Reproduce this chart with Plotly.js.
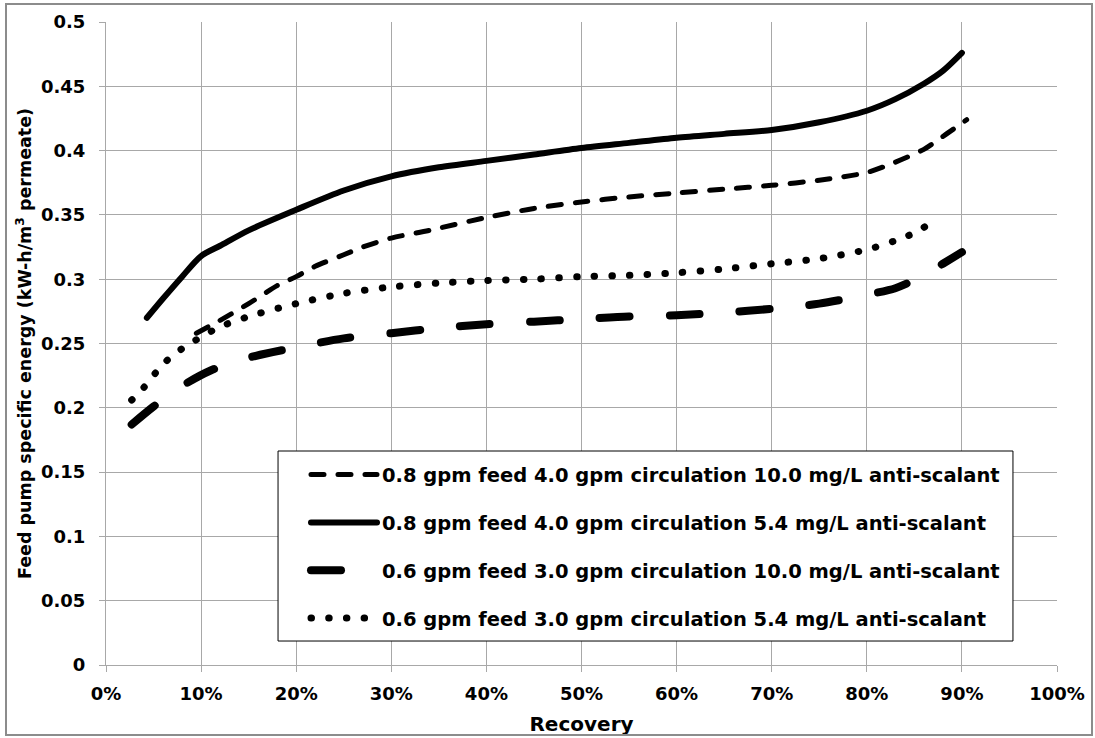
<!DOCTYPE html>
<html>
<head>
<meta charset="utf-8">
<script src="https://cdn.plot.ly/plotly-3.0.1.min.js"></script>
<style>
  html, body { margin: 0; padding: 0; background: #fff; }
  #wrap { position: relative; width: 1095px; height: 738px; }
  #chart { width: 1095px; height: 738px; }
  #frame { position: absolute; left: 5px; top: 3px; width: 1084px; height: 729px;
           border: 2px solid #8c8c8c; pointer-events: none; }
  .js-line { stroke-linecap: round; }
</style>
</head>
<body>
<div id="wrap">
  <div id="chart"></div>
  <div id="frame"></div>
</div>
<script>
// Series names (legend text)
const seriesNames = [
  '0.8 gpm feed 4.0 gpm circulation 10.0 mg/L anti-scalant',
  '0.8 gpm feed 4.0 gpm circulation 5.4 mg/L anti-scalant',
  '0.6 gpm feed 3.0 gpm circulation 10.0 mg/L anti-scalant',
  '0.6 gpm feed 3.0 gpm circulation 5.4 mg/L anti-scalant'
];

// 0.8 gpm feed, 10.0 mg/L (short dash)
const recA = [9.5, 12, 15, 18, 20, 22, 25, 27, 30, 34, 40, 45, 50, 55, 60, 65, 70, 75, 80, 83, 86, 88, 90.5];
const energyA = [0.258, 0.268, 0.281, 0.295, 0.302, 0.310, 0.319, 0.325, 0.332, 0.338, 0.348, 0.355, 0.360, 0.364, 0.367, 0.370, 0.373, 0.377, 0.383, 0.391, 0.401, 0.411, 0.424];

// 0.8 gpm feed, 5.4 mg/L (solid)
const recB = [4.3, 6, 8, 10, 12, 15, 20, 25, 30, 35, 40, 45, 50, 55, 60, 65, 70, 75, 80, 83, 86, 88, 90];
const energyB = [0.270, 0.285, 0.302, 0.318, 0.326, 0.338, 0.354, 0.369, 0.380, 0.387, 0.392, 0.397, 0.402, 0.406, 0.410, 0.413, 0.416, 0.422, 0.431, 0.440, 0.452, 0.462, 0.476];

// 0.6 gpm feed, 10.0 mg/L (long dash)
const recC = [2.7, 5, 8, 11, 15, 20, 25, 30, 35, 40, 45, 50, 55, 60, 65, 70, 75, 80, 83, 86, 88, 90];
const energyC = [0.187, 0.201, 0.217, 0.229, 0.239, 0.247, 0.254, 0.258, 0.262, 0.265, 0.267, 0.269, 0.271, 0.272, 0.274, 0.277, 0.281, 0.288, 0.293, 0.303, 0.312, 0.321];

// 0.6 gpm feed, 5.4 mg/L (dotted)
const recD = [2.7, 4, 6, 8, 10, 12, 15, 20, 25, 30, 35, 40, 45, 50, 55, 60, 65, 70, 75, 80, 83, 85, 87];
const energyD = [0.206, 0.216, 0.234, 0.246, 0.255, 0.263, 0.271, 0.281, 0.289, 0.294, 0.297, 0.299, 0.300, 0.302, 0.303, 0.305, 0.308, 0.312, 0.316, 0.323, 0.330, 0.336, 0.345];

// Axis ticks
const xTickVals = [0, 10, 20, 30, 40, 50, 60, 70, 80, 90, 100];
const xTickLabels = ['0%', '10%', '20%', '30%', '40%', '50%', '60%', '70%', '80%', '90%', '100%'];
const yTickVals = [0, 0.05, 0.1, 0.15, 0.2, 0.25, 0.3, 0.35, 0.4, 0.45, 0.5];
const yTickLabels = ['0', '0.05', '0.1', '0.15', '0.2', '0.25', '0.3', '0.35', '0.4', '0.45', '0.5'];

const FONT = 'DejaVu Sans, Liberation Sans, Arial, sans-serif';
const GRID = '#a8a8a8';

const xs = [recA, recB, recC, recD];
const ys = [energyA, energyB, energyC, energyD];
const styles = [
  { width: 5, dash: '13px,14px' },
  { width: 6, dash: 'solid' },
  { width: 8, dash: '30px,40px' },
  { width: 7, dash: '0.5px,17.2px' }
];

const traces = xs.map((x, i) => ({
  type: 'scatter',
  mode: 'lines',
  x: x,
  y: ys[i],
  name: seriesNames[i],
  legendgroup: 'g' + i,
  line: { color: '#000', width: styles[i].width, dash: styles[i].dash, shape: 'spline', smoothing: 0.8 },
  hoverinfo: 'skip'
}));

const layout = {
  width: 1095,
  height: 738,
  margin: { l: 106, r: 38, t: 22, b: 73, pad: 0 },
  paper_bgcolor: '#fff',
  plot_bgcolor: '#fff',
  font: { family: FONT, color: '#000', size: 18, weight: 'bold' },
  showlegend: true,
  legend: {
    x: 0.2103, y: 0.326, xanchor: 'left', yanchor: 'top',
    bgcolor: 'rgba(0,0,0,0)', borderwidth: 0,
    font: { family: FONT, size: 19.5, color: '#000', weight: 'bold' },
    traceorder: 'grouped', tracegroupgap: 19.5, itemwidth: 66,
    itemclick: false, itemdoubleclick: false
  },
  shapes: [{
    type: 'rect', xref: 'paper', yref: 'paper',
    x0: 0.1809, x1: 0.9537, y0: 0.0373, y1: 0.3328,
    line: { color: '#000', width: 1 }, fillcolor: '#fff', layer: 'above'
  }],
  xaxis: {
    range: [0, 100], autorange: false,
    tickvals: xTickVals, ticktext: xTickLabels, tickmode: 'array',
    showgrid: true, gridcolor: GRID, gridwidth: 1,
    showline: true, linecolor: GRID, linewidth: 1,
    ticks: 'outside', ticklen: 6, tickcolor: GRID,
    tickfont: { family: FONT, size: 18, color: '#000', weight: 'bold' },
    ticklabelstandoff: 6,
    zeroline: false,
    automargin: false,
    title: { text: 'Recovery', font: { family: FONT, size: 20, color: '#000', weight: 'bold' }, standoff: 14 }
  },
  yaxis: {
    range: [0, 0.5], autorange: false,
    tickvals: yTickVals, ticktext: yTickLabels, tickmode: 'array',
    showgrid: true, gridcolor: GRID, gridwidth: 1,
    showline: true, linecolor: GRID, linewidth: 1,
    ticks: 'outside', ticklen: 6, tickcolor: GRID,
    tickfont: { family: FONT, size: 18, color: '#000', weight: 'bold' },
    ticklabelstandoff: 10,
    zeroline: false,
    automargin: false,
    title: { text: 'Feed pump specific energy (kW-h/m<sup>3</sup> permeate)', font: { family: FONT, size: 17.5, color: '#000', weight: 'bold' }, standoff: 4 }
  }
};

Plotly.newPlot('chart', traces, layout, { staticPlot: true, displayModeBar: false });
</script>
</body>
</html>
